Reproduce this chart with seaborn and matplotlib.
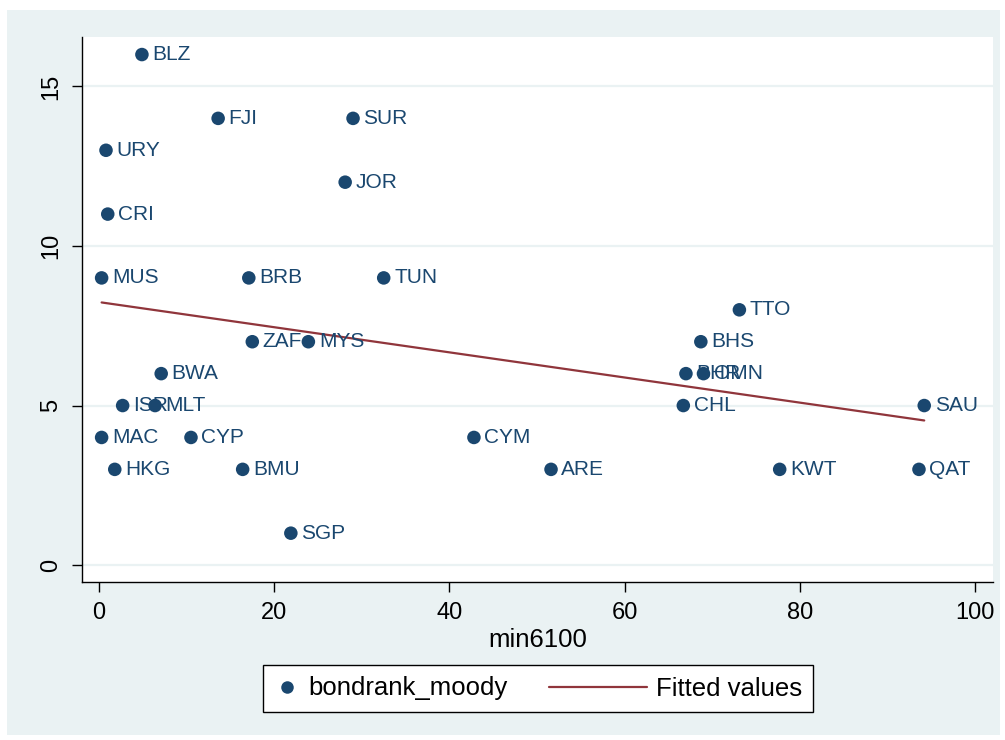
import pandas as pd
import matplotlib.pyplot as plt
import seaborn as sns
import numpy as np
from matplotlib.patches import Rectangle
from matplotlib.legend_handler import HandlerLine2D
from matplotlib.lines import Line2D

# data
countries = ['BLZ', 'FJI', 'SUR', 'URY', 'JOR', 'CRI', 'MUS', 'BRB', 'TUN', 'TTO',
             'BHS', 'ZAF', 'MYS', 'BWA', 'BHR', 'OMN', 'ISR', 'MLT', 'CHL', 'SAU',
             'MAC', 'CYP', 'CYM', 'HKG', 'BMU', 'ARE', 'KWT', 'QAT', 'SGP']
min6100 = [4.9, 13.6, 29.0, 0.8, 28.1, 1.0, 0.3, 17.1, 32.5, 73.1,
           68.7, 17.5, 23.9, 7.1, 67.0, 69.0, 2.7, 6.4, 66.7, 94.2,
           0.3, 10.5, 42.8, 1.8, 16.4, 51.6, 77.7, 93.6, 21.9]
bondrank_moody = [16, 14, 14, 13, 12, 11, 9, 9, 9, 8,
                  7, 7, 7, 6, 6, 6, 5, 5, 5, 5,
                  4, 4, 4, 3, 3, 3, 3, 3, 1]

df = pd.DataFrame({'country': countries, 'min6100': min6100,
                   'bondrank_moody': bondrank_moody})

navy = '#1A476F'
maroon = '#90353B'
bg = '#EAF2F3'


class LongLine(HandlerLine2D):
    # line handle that reaches left into the column gap
    def get_xdata(self, legend, xdescent, ydescent, width, height, fontsize):
        x = np.array([-xdescent - 52, -xdescent + width])
        return x, x


sns.set_style('white')
plt.rcParams['font.family'] = ['Liberation Sans', 'DejaVu Sans']
plt.rcParams['text.color'] = 'black'
plt.rcParams['axes.labelcolor'] = 'black'
plt.rcParams['xtick.color'] = 'black'
plt.rcParams['ytick.color'] = 'black'

fig = plt.figure(figsize=(10.05, 7.40), dpi=100, facecolor='white')
fig.patches.append(Rectangle((7 / 1005, 1 - 735 / 740), 993 / 1005, 725 / 740,
                             transform=fig.transFigure, facecolor=bg,
                             edgecolor='none', zorder=-10))
ax = fig.add_axes([82 / 1005, 1 - 582 / 740, 911 / 1005, 545 / 740])
ax.set_facecolor('white')

ax.yaxis.grid(True, color=bg, linewidth=1.6)
ax.set_axisbelow(True)

sns.scatterplot(data=df, x='min6100', y='bondrank_moody', ax=ax, color=navy,
                s=95, edgecolor='none', zorder=3, legend=False)
sns.regplot(data=df, x='min6100', y='bondrank_moody', ax=ax, scatter=False,
            ci=None, truncate=True, color=maroon, line_kws={'linewidth': 1.6})

for _, row in df.iterrows():
    ax.annotate(row['country'], (row['min6100'], row['bondrank_moody']),
                xytext=(7.5, 0), textcoords='offset points', va='center',
                ha='left', fontsize=15, color=navy, zorder=4)

ax.set_xlim(-1.94, 102.05)
ax.set_ylim(-0.53, 16.55)
ax.set_xticks([0, 20, 40, 60, 80, 100])
ax.set_yticks([0, 5, 10, 15])
ax.tick_params(axis='both', direction='out', length=7, width=1, labelsize=17,
               color='black', labelcolor='black', left=True, bottom=True,
               pad=7.5)
for lbl in ax.get_yticklabels():
    lbl.set_rotation(90)
    lbl.set_va('center')
ax.set_xlabel('min6100', fontsize=18.5, labelpad=2.5, color='black')
ax.set_ylabel('')

for side in ['top', 'right']:
    ax.spines[side].set_visible(False)
for side in ['left', 'bottom']:
    ax.spines[side].set_color('black')
    ax.spines[side].set_linewidth(1)

dot = Line2D([], [], linestyle='none', marker='o', markersize=9,
             color=navy, markeredgewidth=0)
fit = Line2D([], [], color=maroon, linewidth=1.6)
leg = fig.legend([dot, fit], ['bondrank_moody', 'Fitted values'], loc='center',
                 bbox_to_anchor=(538 / 1005, 1 - 688.5 / 740), ncol=2,
                 fontsize=18.5, frameon=True, fancybox=False, edgecolor='black',
                 handlelength=1.0, columnspacing=4.4, borderpad=0.45,
                 handletextpad=0.35, handler_map={fit: LongLine()},
                 labelcolor='black')
leg.get_frame().set_linewidth(1)
leg.get_frame().set_facecolor('white')
leg.get_frame().set_alpha(1)

fig.savefig('out.png', dpi=100, facecolor='white')
